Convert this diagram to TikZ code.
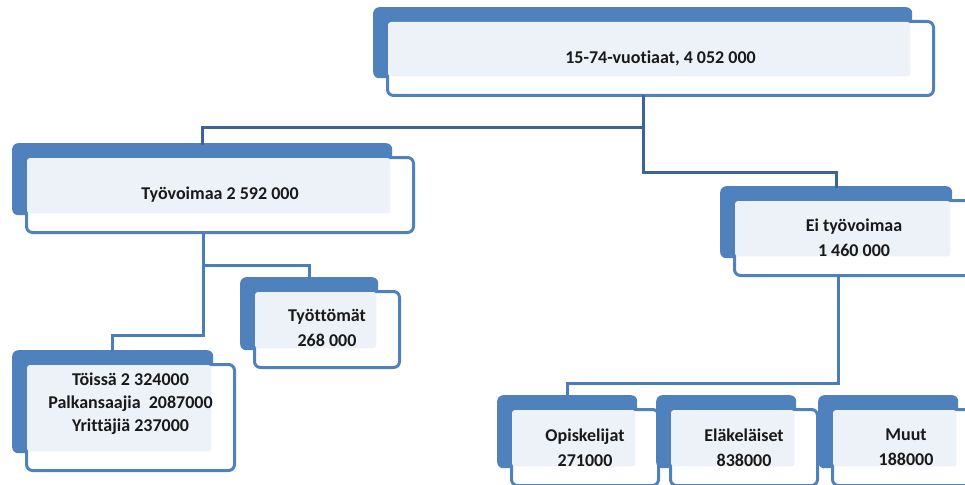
\documentclass[tikz,border=0pt]{standalone}
\usepackage{fontspec}
\setmainfont[Ligatures=NoCommon]{Carlito}
\definecolor{tabblue}{RGB}{79,129,189}
\definecolor{paneblue}{RGB}{237,242,249}
\definecolor{trunkblue}{RGB}{61,100,150}
\definecolor{linkblue}{RGB}{74,126,187}
\tikzset{
  tab/.style={anchor=north west, fill=tabblue, rounded corners=6pt, inner sep=0pt},
  card/.style={anchor=north west, draw=tabblue, line width=3pt, fill=white, rounded corners=6pt, inner sep=0pt},
  pane/.style={fill=paneblue, rounded corners=3pt},
  boxtext/.style={align=center, text=black!90, font=\bfseries\fontsize{18}{25}\selectfont},
  trunk/.style={draw=trunkblue, line width=3pt},
  link/.style={draw=linkblue, line width=3pt}
}
% tab corner x, y, tab width, height, text
\newcommand{\orgbox}[7][]{%
  \node[tab, minimum width=#5pt, minimum height=#6pt] (#2-tab) at (#3,#4) {};
  \node[card, minimum width=#5pt+7pt, minimum height=#6pt+3pt] (#2) at (#3+13,#4+13) {};
  \fill[pane] ([xshift=2pt,yshift=-2pt]#2.north west) rectangle ([xshift=-2pt,yshift=2pt]#2-tab.south east);
  \node[boxtext,#1] (#2-txt) at (#2.center) {#7};}
\begin{document}
\begin{tikzpicture}[x=1pt,y=-1pt,line cap=rect]
\useasboundingbox (0,0) rectangle (965,484);
\clip (0,0) rectangle (965,484);
\orgbox{all}{373}{7}{539}{71}{15-74-vuotiaat, 4 052 000}
\orgbox{work}{12}{143}{380}{72}{Työvoimaa 2 592 000}
\orgbox{non}{720}{186}{232}{72}{Ei työvoimaa\\1 460 000}
\orgbox[yshift=2pt]{unemp}{240}{277}{138}{73}{Työttömät\\268 000}
\orgbox[font=\bfseries\fontsize{18}{23}\selectfont,yshift=14pt]{emp}{12}{350}{201}{103}{Töissä 2 324000\\Palkansaajia~~2087000\\Yrittäjiä 237000}
\orgbox{stud}{497}{395}{140}{73}{Opiskelijat\\271000}
\orgbox{pens}{656}{395}{140}{73}{Eläkeläiset\\838000}
\orgbox{other}{818}{395}{140}{73}{Muut\\188000}
\coordinate (j1) at (643,127);
\coordinate (j2) at (643,172);
\coordinate (j3) at (203,265);
\coordinate (j4) at (203,335);
\coordinate (j5) at (838,383);
\draw[trunk] (all.south -| j1) |- (j1) -| (work-tab.north);
\draw[trunk] (j1) -- (j2) -| (non-tab.north);
\draw[link] (work.south -| j3) -- (j3) -| (unemp-tab.north);
\draw[link] (j3) -- (j4) -| (emp-tab.north);
\draw[link] (non.south -| j5) -- (j5) -| (stud-tab.north);
\end{tikzpicture}
\end{document}
